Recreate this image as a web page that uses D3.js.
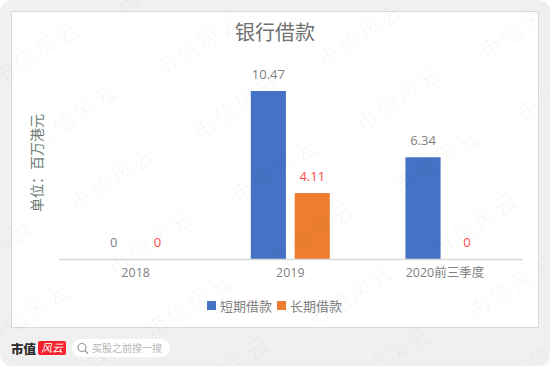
<!DOCTYPE html>
<html>
<head>
<meta charset="utf-8">
<script src="https://cdnjs.cloudflare.com/ajax/libs/d3/7.8.5/d3.min.js"></script>
<style>
    html, body { margin: 0; padding: 0; background: #fff; }
    text { font-family: "Open Sans", "Noto Sans CJK SC", sans-serif; }
    .axis .domain { stroke: #d9d9d9; stroke-width: 1.5; }
    .axis text { font-family: "Open Sans", "Noto Sans CJK SC", sans-serif; font-size: 12.5px; fill: #808080; }
</style>
</head>
<body>
<div id="chart"></div>
<script>
var categories = ["2018", "2019", "2020前三季度"];
var seriesNames = ["短期借款", "长期借款"];
var shortLoans = [0, 10.47, 6.34];
var longLoans = [0, 4.11, 0];
var seriesColors = ["#4472c4", "#ed7d31"];
var labelColors = ["#7f7f7f", "#ff4a4a"];

var W = 550, H = 366;

var svg = d3.select("#chart")
    .append("svg")
    .attr("width", W)
    .attr("height", H)
    .style("display", "block");

// page and card
svg.append("rect")
    .attr("width", W).attr("height", H)
    .attr("rx", 12)
    .attr("fill", "#f0f0f0");

svg.append("rect")
    .attr("x", 11.5).attr("y", 11.5)
    .attr("width", 527).attr("height", 316)
    .attr("fill", "#fff")
    .attr("stroke", "#d9d9d9");

var margin = {top: 91, left: 58.3, right: 27.7, bottom: 107}
    , width = W - margin.left - margin.right
    , height = H - margin.top - margin.bottom
    , g = svg.append("g").attr("transform", "translate(" + margin.left + "," + margin.top + ")")
    ;

var x0 = d3.scaleBand()
    .domain(categories)
    .range([0, width]);

var x1 = d3.scaleBand()
    .domain(seriesNames)
    .range([0, 79])
    .paddingInner(0.2);

var y = d3.scaleLinear()
    .domain([0, 10.47])
    .range([height, 0]);

var groupOffset = (x0.bandwidth() - x1.range()[1]) / 2;

[shortLoans, longLoans].forEach(function(values, s) {
    var name = seriesNames[s];

    function barX(i) {
        return x0(categories[i]) + groupOffset + x1(name);
    }

    g.selectAll("rect.s" + s)
        .data(values)
        .enter()
        .append("rect")
        .attr("class", "s" + s)
        .attr("x", function(d, i) { return barX(i); })
        .attr("y", function(d) { return y(d); })
        .attr("width", x1.bandwidth())
        .attr("height", function(d) { return height - y(d); })
        .attr("fill", seriesColors[s]);

    g.selectAll("text.l" + s)
        .data(values)
        .enter()
        .append("text")
        .attr("class", "l" + s)
        .attr("x", function(d, i) { return barX(i) + x1.bandwidth() / 2; })
        .attr("y", function(d) { return y(d) - 12; })
        .attr("text-anchor", "middle")
        .attr("font-size", 13)
        .attr("fill", labelColors[s])
        .text(function(d) { return d; });
});

var xAxis = d3.axisBottom(x0)
    .tickSize(0)
    .tickPadding(9);

g.append("g")
    .attr("class", "axis")
    .attr("transform", "translate(0," + height + ")")
    .call(xAxis);

// title and unit
svg.append("text")
    .attr("x", 275).attr("y", 40)
    .attr("text-anchor", "middle")
    .attr("font-size", 20)
    .attr("fill", "#707070")
    .text("银行借款");

svg.append("text")
    .attr("transform", "translate(42,163) rotate(-90)")
    .attr("text-anchor", "middle")
    .attr("font-size", 14)
    .attr("fill", "#6b7a74")
    .text("单位：百万港元");

// legend
var legend = svg.append("g")
    .selectAll("g")
    .data(seriesNames)
    .enter()
    .append("g")
    .attr("transform", function(d, i) { return "translate(" + (207 + i * 70) + ",301)"; });

legend.append("rect")
    .attr("width", 9).attr("height", 9)
    .attr("fill", function(d, i) { return seriesColors[i]; });

legend.append("text")
    .attr("x", 13).attr("y", 10)
    .attr("font-size", 13)
    .attr("fill", "#808080")
    .text(function(d) { return d; });

// footer logo and search box
svg.append("text")
    .attr("x", 11).attr("y", 354)
    .attr("font-family", "'Noto Sans CJK SC'")
    .attr("font-weight", 900)
    .attr("font-size", 12.5)
    .attr("fill", "#2a2a2a")
    .text("市值");

svg.append("rect")
    .attr("x", 38).attr("y", 341)
    .attr("width", 28).attr("height", 14)
    .attr("rx", 2)
    .attr("fill", "#f5222d");

svg.append("text")
    .attr("x", 52).attr("y", 352)
    .attr("text-anchor", "middle")
    .attr("font-size", 11)
    .attr("font-style", "italic")
    .attr("fill", "#fff")
    .text("风云");

svg.append("rect")
    .attr("x", 72).attr("y", 339)
    .attr("width", 98).attr("height", 18)
    .attr("rx", 9)
    .attr("fill", "#fff");

svg.append("circle")
    .attr("cx", 82).attr("cy", 347.5).attr("r", 4)
    .attr("fill", "none")
    .attr("stroke", "#999")
    .attr("stroke-width", 1.2);

svg.append("line")
    .attr("x1", 85).attr("y1", 350.5).attr("x2", 88).attr("y2", 353.5)
    .attr("stroke", "#999")
    .attr("stroke-width", 1.2);

svg.append("text")
    .attr("x", 92).attr("y", 352)
    .attr("font-size", 10)
    .attr("fill", "#b5b5b5")
    .text("买股之前搜一搜");

// watermark lattice over everything
var wm = svg.append("g").attr("pointer-events", "none");
d3.range(-2, 6).forEach(function(a) {
    d3.range(-2, 6).forEach(function(b) {
        var px = 38 + a * 38 + b * 162, py = 55 + a * 63 - b * 9;
        if (px < -60 || px > W + 60 || py < -30 || py > H + 30) return;
        wm.append("text")
            .attr("transform", "translate(" + px + "," + py + ") rotate(-33)")
            .attr("text-anchor", "middle")
            .attr("dominant-baseline", "middle")
            .attr("font-size", 23)
            .attr("letter-spacing", 2)
            .attr("fill", "#000")
            .attr("fill-opacity", 0.03)
            .text("市值风云");
    });
});
</script>
</body>
</html>
